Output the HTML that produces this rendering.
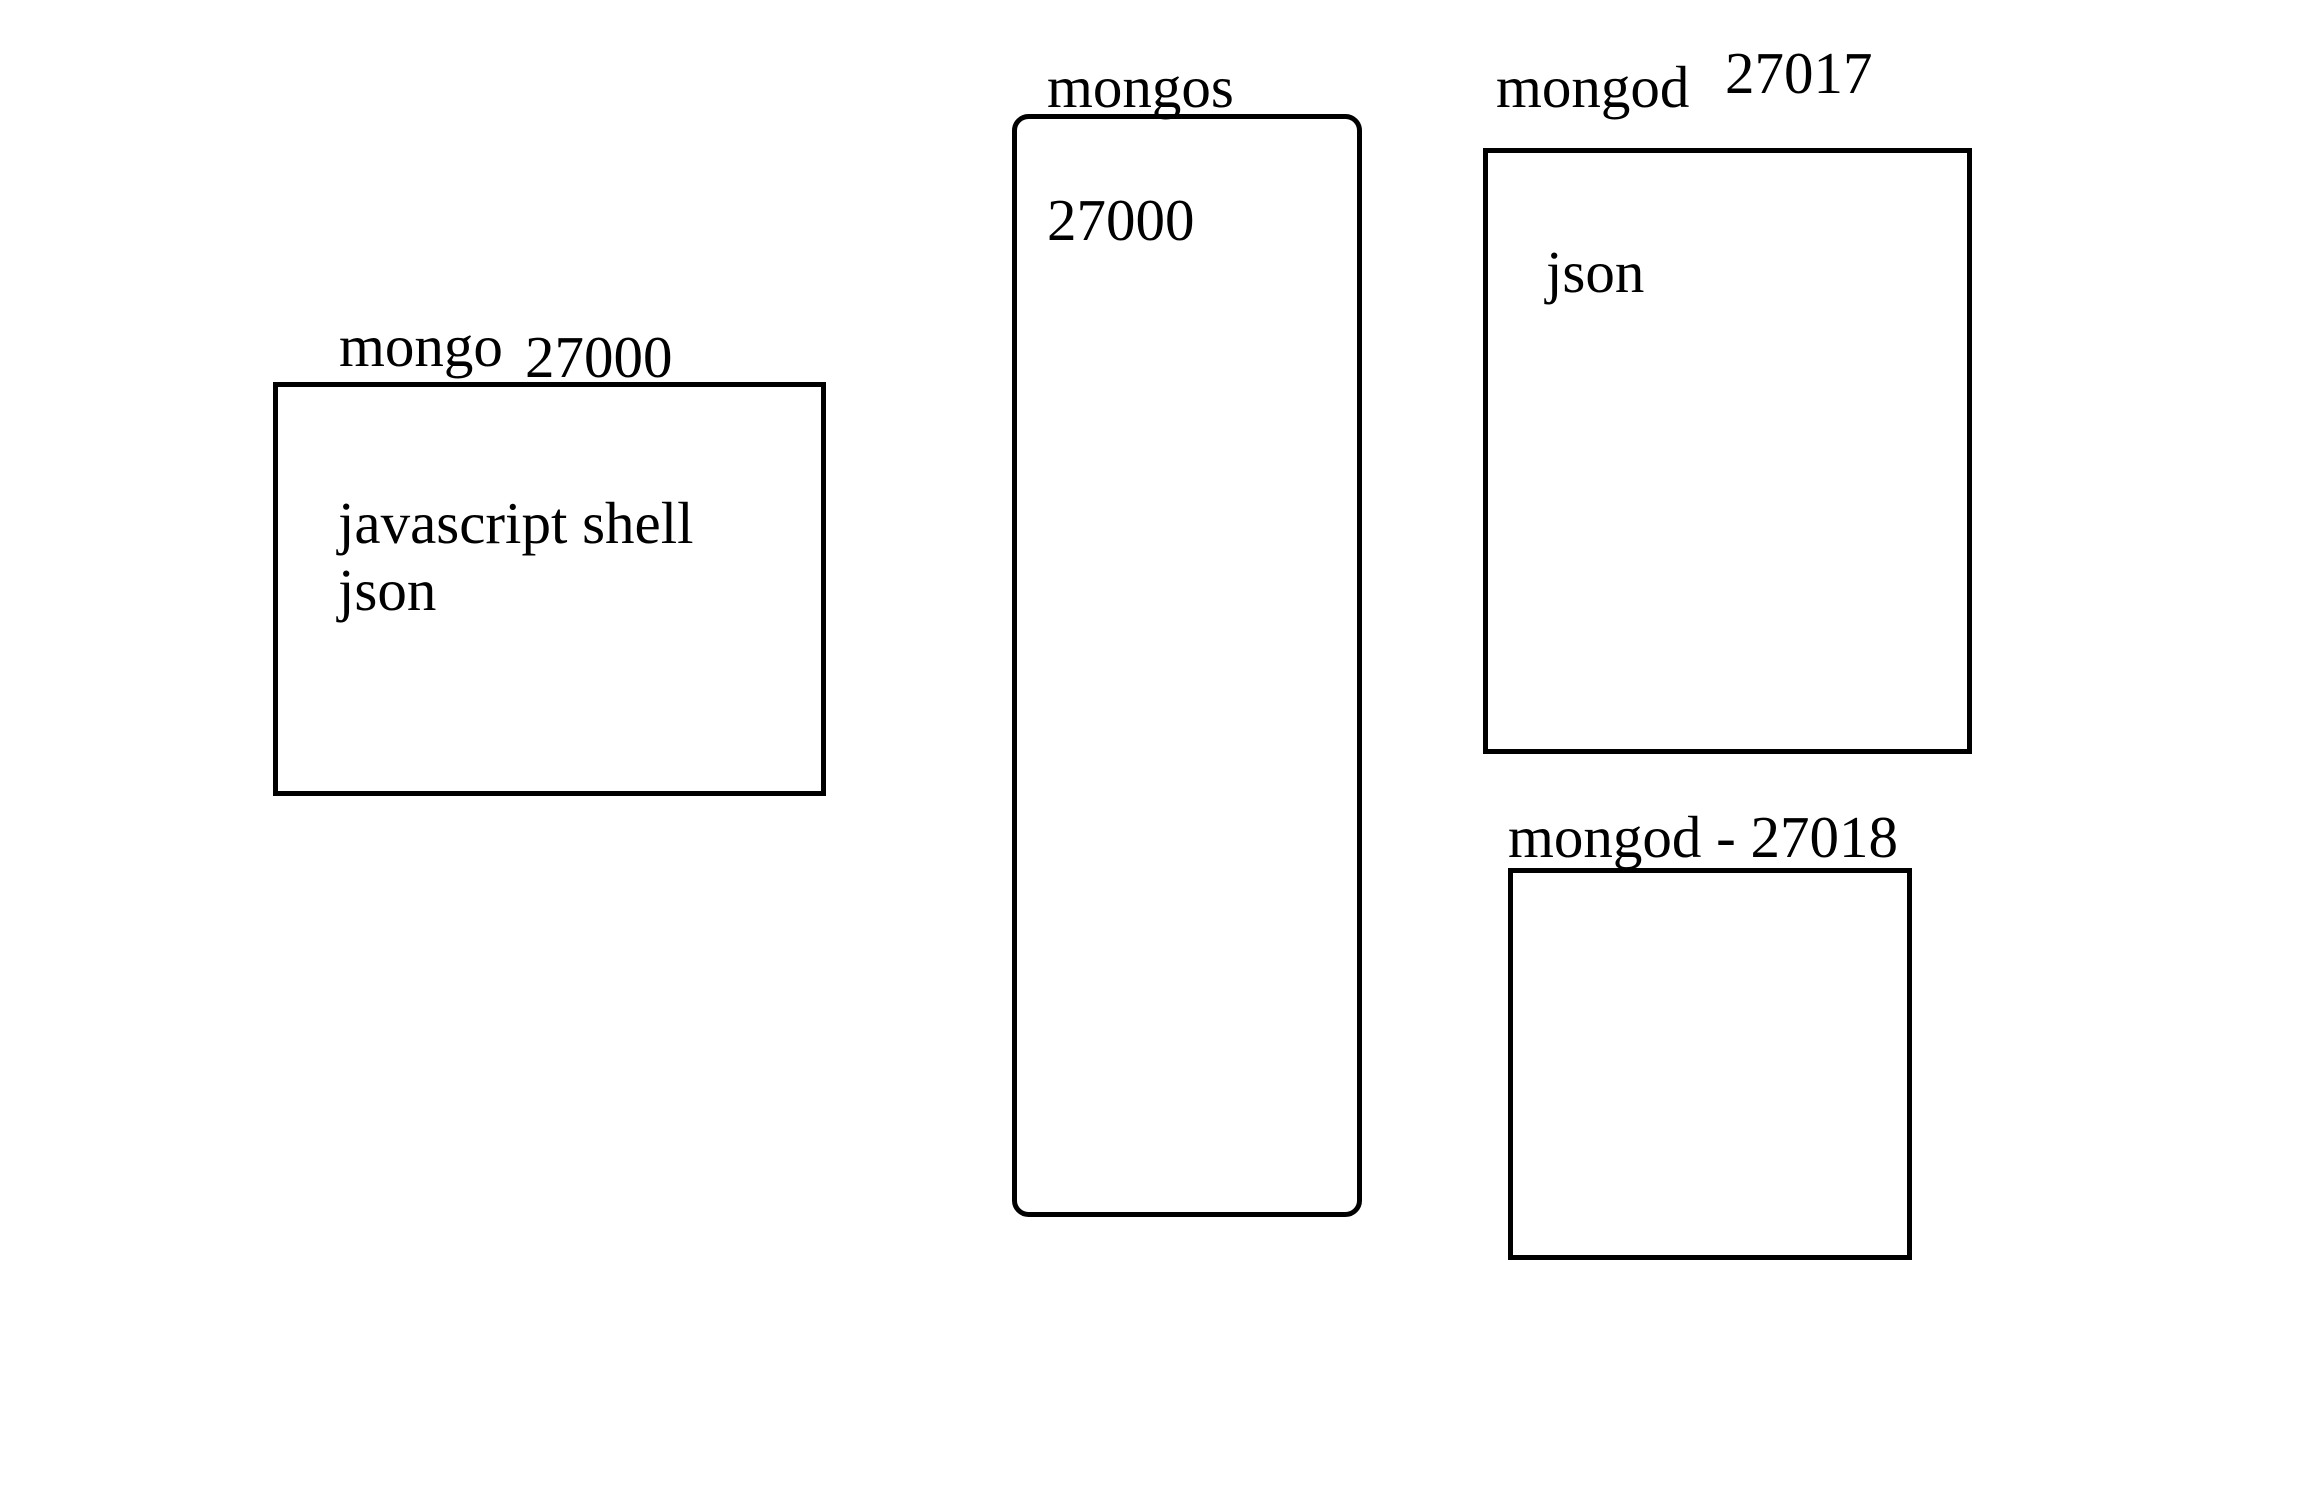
<!DOCTYPE html>
<html><head><meta charset="utf-8"><style>html,body{margin:0;padding:0;background:#fff;}svg{display:block}</style></head>
<body>
<svg width="2318" height="1487" viewBox="0 0 2318 1487" xmlns="http://www.w3.org/2000/svg">
<rect width="2318" height="1487" fill="#fff"/>
<g fill="none" stroke="#000" stroke-width="5">
<rect x="275.5" y="384.5" width="548" height="409"/>
<rect x="1014.5" y="116.5" width="345" height="1098" rx="14"/>
<rect x="1485.5" y="150.5" width="484" height="601"/>
<rect x="1510.5" y="870.5" width="399" height="387"/>
</g>
<g font-family="'Liberation Serif', serif" font-size="59" fill="#000">
<text x="339" y="366">mongo</text>
<text x="525" y="377">27000</text>
<text x="338" y="543">javascript shell</text>
<text x="338" y="610">json</text>
<text x="1047" y="107">mongos</text>
<text x="1047" y="240">27000</text>
<text x="1496" y="107">mongod</text>
<text x="1725" y="93">27017</text>
<text x="1546" y="292">json</text>
<text x="1508" y="857">mongod - 27018</text>
</g>
</svg>
</body></html>
